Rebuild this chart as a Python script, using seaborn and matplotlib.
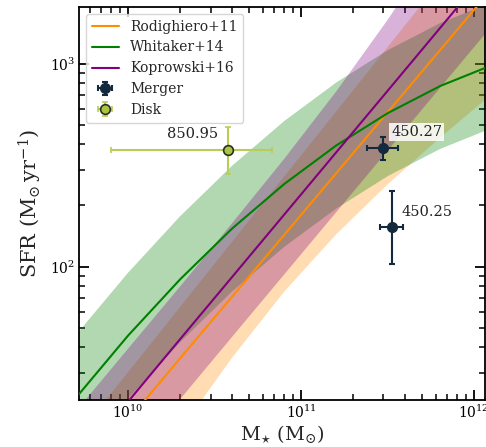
import numpy as np
import pandas as pd
import matplotlib
matplotlib.use("Agg")
import matplotlib.pyplot as plt
import seaborn as sns
from matplotlib.lines import Line2D
from matplotlib.ticker import LogLocator, NullFormatter

# ---------------- data ----------------
mass_grid = [5.0e9, 1.0e10, 2.0e10, 4.0e10, 8.0e10, 1.6e11, 3.2e11, 6.4e11, 1.28e12]

rod_sfr = [8.71, 17.5, 35.3, 71.1, 143.2, 288.4, 580.8, 1169, 2355]
rod_hi = [14.4, 30.2, 63.3, 132.6, 277.8, 581.8, 1218, 2552, 5343]
rod_lo = [2.64, 6.51, 15.6, 35.6, 75.2, 144.2, 255.9, 432.5, 711]

whi_sfr = [22.6, 45.7, 86.5, 154, 255, 395, 572, 776, 984]
whi_hi = [46.1, 93.3, 177, 314, 521, 807, 1168, 1585, 2009]
whi_lo = [11.1, 22.4, 42.4, 75.4, 125, 193, 280, 380, 482]

kop_sfr = [10.7, 21.6, 43.9, 88.9, 180.3, 365.6, 741, 1503, 3047]
kop_hi = [19.4, 39.4, 79.8, 163.7, 339.6, 729.5, 1660, 4046, 10090]
kop_lo = [5.41, 10.96, 22.2, 45.1, 91.4, 185.4, 375.8, 762, 1545]

relation_names = ["Rodighiero+11", "Whitaker+14", "Koprowski+16"]

merger_mass = [2.99e11, 3.36e11]
merger_mass_lo = [2.40e11, 2.86e11]
merger_mass_hi = [3.65e11, 3.90e11]
merger_sfr = [384, 157]
merger_sfr_lo = [334, 103]
merger_sfr_hi = [435, 236]
merger_labels = ["450.27", "450.25"]

disk_mass = [3.78e10]
disk_mass_lo = [7.98e9]
disk_mass_hi = [6.8e10]
disk_sfr = [377]
disk_sfr_lo = [286]
disk_sfr_hi = [489]
disk_labels = ["850.95"]

# ---------------- style ----------------
sns.set_style("ticks")
plt.rcParams["font.family"] = ["DejaVu Serif"]
plt.rcParams["mathtext.fontset"] = "dejavuserif"

colors = {"Rodighiero+11": "darkorange", "Whitaker+14": "green", "Koprowski+16": "purple"}

fig = plt.figure(figsize=(4.86, 4.47), dpi=100)
ax = fig.add_axes([79 / 486, 1 - 400 / 447, (485 - 79) / 486, (400 - 7) / 447])
ax.set_xscale("log")
ax.set_yscale("log")

# bands
ax.fill_between(mass_grid, rod_lo, rod_hi, color=colors["Rodighiero+11"], alpha=0.3, lw=0, zorder=1)
ax.fill_between(mass_grid, whi_lo, whi_hi, color=colors["Whitaker+14"], alpha=0.3, lw=0, zorder=1)
ax.fill_between(mass_grid, kop_lo, kop_hi, color=colors["Koprowski+16"], alpha=0.3, lw=0, zorder=1)

# lines via seaborn
df = pd.DataFrame({
    "mass": mass_grid * 3,
    "sfr": rod_sfr + whi_sfr + kop_sfr,
    "relation": sum([[n] * len(mass_grid) for n in relation_names], []),
})
sns.lineplot(data=df, x="mass", y="sfr", hue="relation", palette=colors,
             ax=ax, legend=False, lw=1.5, zorder=3, sort=True, estimator=None)

# points
merger_col = "#13293d"
disk_face = "#a9c63e"
disk_bar = "#b8cd55"

m_xerr = [np.array(merger_mass) - np.array(merger_mass_lo), np.array(merger_mass_hi) - np.array(merger_mass)]
m_yerr = [np.array(merger_sfr) - np.array(merger_sfr_lo), np.array(merger_sfr_hi) - np.array(merger_sfr)]
eb_m = ax.errorbar(merger_mass, merger_sfr, xerr=m_xerr, yerr=m_yerr, fmt="o", color=merger_col,
                   ms=7, mec=merger_col, elinewidth=1.5, capsize=2, capthick=1.5, zorder=5, label="Merger")

d_xerr = [np.array(disk_mass) - np.array(disk_mass_lo), np.array(disk_mass_hi) - np.array(disk_mass)]
d_yerr = [np.array(disk_sfr) - np.array(disk_sfr_lo), np.array(disk_sfr_hi) - np.array(disk_sfr)]
eb_d = ax.errorbar(disk_mass, disk_sfr, xerr=d_xerr, yerr=d_yerr, fmt="o", color=disk_bar,
                   mfc=disk_face, mec="#2a2f22", mew=1.2, ms=7, elinewidth=1.5, capsize=2,
                   capthick=1.5, zorder=5, label="Disk")

bbox = dict(boxstyle="square,pad=0.15", fc="white", ec="none", alpha=0.85)
offsets = [(8, 16), (10, 15)]
for x, y, t, off in zip(merger_mass, merger_sfr, merger_labels, offsets):
    ax.annotate(t, (x, y), xytext=off, textcoords="offset pixels", ha="left", va="center",
                fontsize=10.5, color="#222222", bbox=bbox, zorder=6)
for x, y, t in zip(disk_mass, disk_sfr, disk_labels):
    ax.annotate(t, (x, y), xytext=(-10, 16), textcoords="offset pixels", ha="right", va="center",
                fontsize=10.5, color="#222222", bbox=bbox, zorder=6)

ax.set_xlim(5.2e9, 1.16e12)
ax.set_ylim(22, 1900)

ax.set_xlabel(r"$\mathrm{M}_{\star}$ ($\mathrm{M}_{\odot}$)", fontsize=14, labelpad=1)
ax.set_ylabel(r"SFR ($\mathrm{M}_{\odot}\,\mathrm{yr}^{-1}$)", fontsize=15)

for axis in (ax.xaxis, ax.yaxis):
    axis.set_major_locator(LogLocator(base=10, numticks=10))
    axis.set_minor_locator(LogLocator(base=10, subs=np.arange(2, 10), numticks=20))
    axis.set_minor_formatter(NullFormatter())
ax.tick_params(which="both", direction="in", top=True, right=True, labelsize=10, colors="black")
ax.tick_params(which="major", length=7, width=1.3, pad=3)
ax.tick_params(which="minor", length=4, width=1.1)
for s in ax.spines.values():
    s.set_linewidth(1.3)
    s.set_color("black")

handles = [Line2D([], [], color=colors[n], lw=1.5) for n in relation_names] + [eb_m, eb_d]
labels = relation_names + ["Merger", "Disk"]
ax.legend(handles, labels, loc="upper left", fontsize=10, frameon=True, fancybox=True)

fig.savefig("out.png", dpi=100)
